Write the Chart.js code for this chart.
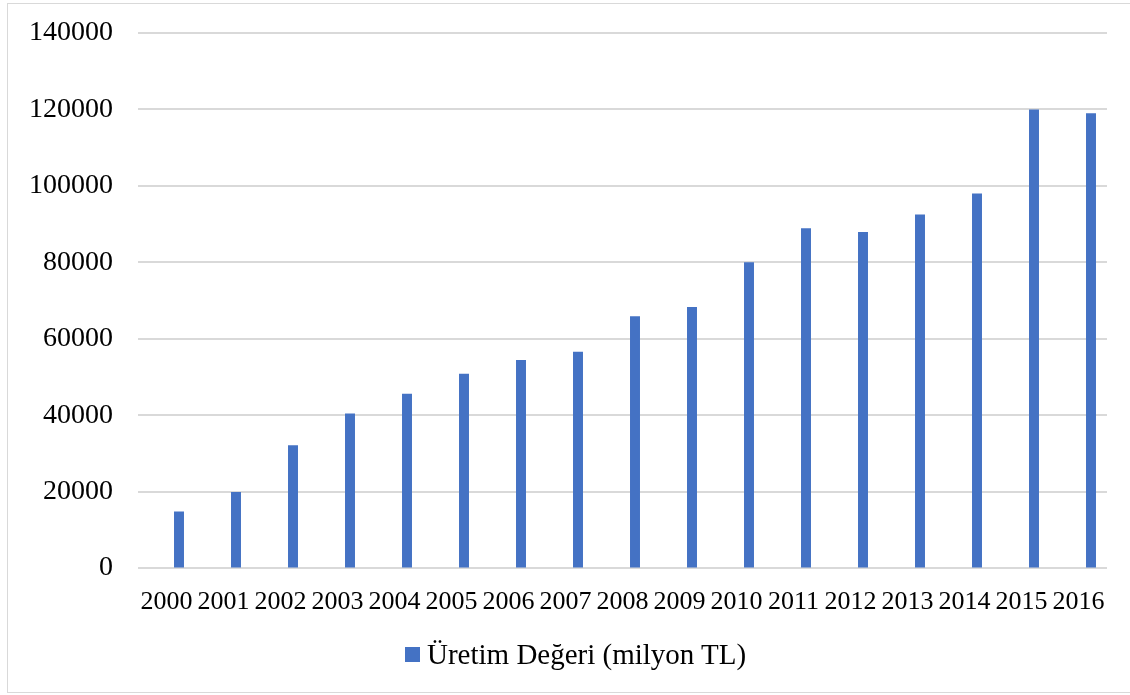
<!DOCTYPE html>
<html>
<head>
<meta charset="utf-8">
<script src="https://cdn.jsdelivr.net/npm/chart.js@4.4.1/dist/chart.umd.min.js"></script>
<style>
  html, body { margin: 0; padding: 0; background: #fff; }
  #frame { position: absolute; left: 7px; top: 3px; width: 1140px; height: 690px; border: 1px solid #d9d9d9; box-sizing: border-box; }
  #wrap { position: absolute; left: 0; top: 0; width: 1130px; height: 695px; }
  #legend { position: absolute; left: 405px; top: 640px; height: 29px; display: flex; align-items: center;
            font-family: 'Liberation Serif', 'Times New Roman', serif; font-size: 29px; line-height: 29px; color: #000; white-space: nowrap; }
  #legend .box { width: 15px; height: 15px; margin-right: 7px; }
</style>
</head>
<body>
<div id="frame"></div>
<div id="wrap"><canvas id="c" width="1130" height="695"></canvas></div>
<div id="legend"></div>
<script>
const years = ["2000","2001","2002","2003","2004","2005","2006","2007","2008","2009","2010","2011","2012","2013","2014","2015","2016"];
const uretimDegeri = [14800, 19900, 32100, 40400, 45600, 50800, 54400, 56600, 65900, 68300, 80000, 88900, 87900, 92500, 98000, 120000, 119000];
const seriesLabel = "Üretim Değeri (milyon TL)";
const seriesColor = '#4472C4';
const yMin = 0, yMax = 140000, yStep = 20000;

const fontFamily = "'Liberation Serif', 'Times New Roman', serif";
const SHIFT = 12.5; // bars sit right of their category labels, as in the source

// Horizontal gridlines from the y scale ticks, spanning the label area
const gridPlugin = {
  id: 'shiftedGrid',
  beforeDatasetsDraw(chart) {
    const { ctx, chartArea, scales: { y } } = chart;
    ctx.save();
    ctx.strokeStyle = '#d9d9d9';
    ctx.lineWidth = 2;
    y.ticks.forEach(t => {
      const py = Math.round(y.getPixelForValue(t.value));
      ctx.beginPath();
      ctx.moveTo(chartArea.left - SHIFT, py);
      ctx.lineTo(chartArea.right - SHIFT, py);
      ctx.stroke();
    });
    ctx.restore();
  }
};

const chart = new Chart(document.getElementById('c'), {
  type: 'bar',
  data: {
    labels: years,
    datasets: [{
      label: seriesLabel,
      data: uretimDegeri,
      backgroundColor: seriesColor,
      borderWidth: 0,
      barPercentage: 0.175,
      categoryPercentage: 1.0
    }]
  },
  options: {
    responsive: false,
    animation: false,
    layout: { padding: { top: 33, right: 10.5, bottom: 0, left: 0 } },
    plugins: {
      legend: { display: false },
      tooltip: { enabled: false }
    },
    scales: {
      x: {
        grid: { display: true, drawOnChartArea: false, drawTicks: true, tickLength: 19, color: 'rgba(0,0,0,0)' },
        border: { display: false },
        ticks: { color: '#000', font: { family: fontFamily, size: 26 }, padding: 0, maxRotation: 0, autoSkip: false, labelOffset: -SHIFT },
        afterFit: (s) => { s.height = 127; }
      },
      y: {
        min: yMin, max: yMax,
        grid: { display: true, drawOnChartArea: false, drawTicks: true, tickLength: 25 + SHIFT, color: 'rgba(0,0,0,0)' },
        border: { display: false },
        ticks: { stepSize: yStep, color: '#000', font: { family: fontFamily, size: 28 }, padding: 0, callback: (v) => String(v) },
        afterFit: (s) => { s.width = 138 + SHIFT; }
      }
    }
  },
  plugins: [gridPlugin]
});

// Legend built from the dataset
const lg = document.getElementById('legend');
chart.data.datasets.forEach(ds => {
  const b = document.createElement('span'); b.className = 'box'; b.style.background = ds.backgroundColor;
  const t = document.createElement('span'); t.textContent = ds.label;
  lg.appendChild(b); lg.appendChild(t);
});
</script>
</body>
</html>
